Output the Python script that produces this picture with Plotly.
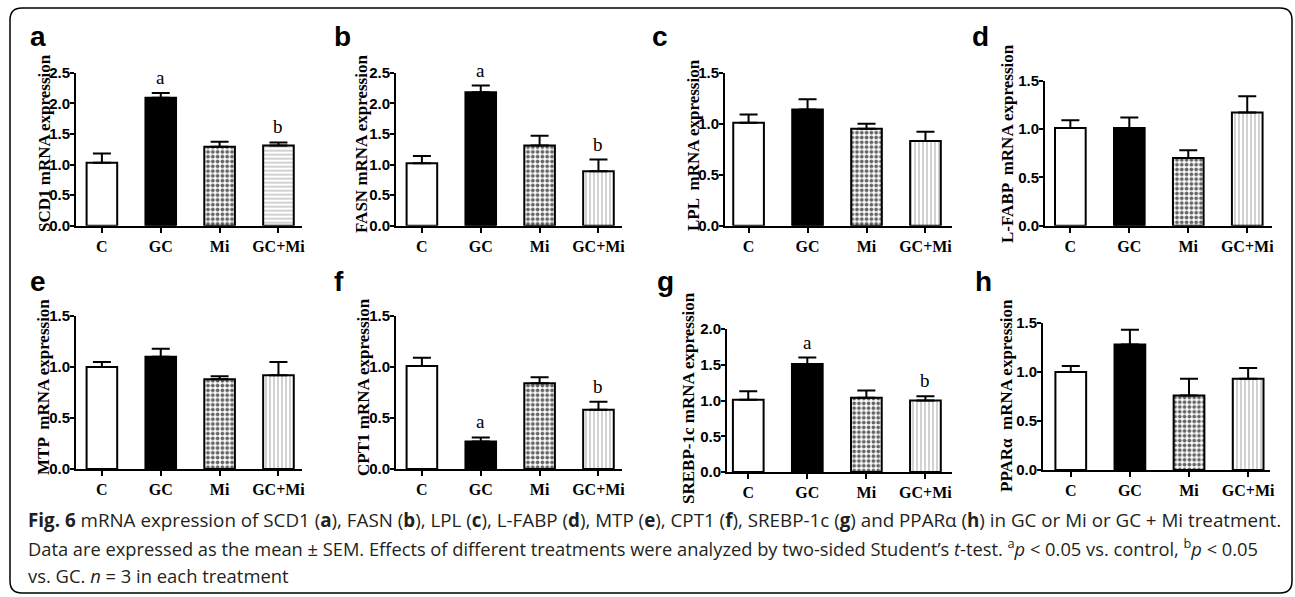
import plotly.graph_objects as go

W, H = 1295, 597

groups = ["C", "GC", "Mi", "GC+Mi"]

# ---- data (mean, SEM) ----
scd1_mean = [1.03, 2.09, 1.29, 1.31]
scd1_sem = [0.15, 0.08, 0.08, 0.05]
scd1_sig = ["", "a", "", "b"]

fasn_mean = [1.02, 2.18, 1.31, 0.89]
fasn_sem = [0.12, 0.11, 0.16, 0.19]
fasn_sig = ["", "a", "", "b"]

lpl_mean = [1.01, 1.14, 0.95, 0.83]
lpl_sem = [0.08, 0.10, 0.05, 0.09]
lpl_sig = ["", "", "", ""]

lfabp_mean = [1.01, 1.01, 0.70, 1.17]
lfabp_sem = [0.08, 0.11, 0.08, 0.17]
lfabp_sig = ["", "", "", ""]

mtp_mean = [1.00, 1.10, 0.88, 0.92]
mtp_sem = [0.05, 0.08, 0.03, 0.13]
mtp_sig = ["", "", "", ""]

cpt1_mean = [1.01, 0.27, 0.84, 0.58]
cpt1_sem = [0.08, 0.04, 0.06, 0.08]
cpt1_sig = ["", "a", "", "b"]

srebp_mean = [1.01, 1.51, 1.04, 1.00]
srebp_sem = [0.12, 0.09, 0.10, 0.06]
srebp_sig = ["", "a", "", "b"]

ppara_mean = [1.00, 1.28, 0.76, 0.93]
ppara_sem = [0.06, 0.15, 0.17, 0.11]
ppara_sig = ["", "", "", ""]

panel_letters = ["a", "b", "c", "d", "e", "f", "g", "h"]
y_titles = ["SCD1 mRNA expression", "FASN mRNA expression", "LPL  mRNA expression",
            "L-FABP  mRNA expression", "MTP  mRNA expression", "CPT1 mRNA expression",
            "SREBP-1c mRNA expression", "PPARα  mRNA expression"]
y_max = [2.5, 2.5, 1.5, 1.5, 1.5, 1.5, 2.0, 1.5]

means = [scd1_mean, fasn_mean, lpl_mean, lfabp_mean, mtp_mean, cpt1_mean, srebp_mean, ppara_mean]
sems = [scd1_sem, fasn_sem, lpl_sem, lfabp_sem, mtp_sem, cpt1_sem, srebp_sem, ppara_sem]
sigs = [scd1_sig, fasn_sig, lpl_sig, lfabp_sig, mtp_sig, cpt1_sig, srebp_sig, ppara_sig]

# ---- layout in pixels ----
boxes = [
    (76, 302, 72.7, 225.7), (396, 622, 72.7, 225.7), (725, 952, 72.7, 225.7), (1045, 1272, 80.7, 225.7),
    (76, 302, 316, 469), (396, 622, 316, 469), (727, 952, 329, 472), (1043, 1270, 323, 470),
]
x_ranges = [(-0.44, 3.40), (-0.44, 3.40), (-0.40, 3.45), (-0.43, 3.42),
            (-0.44, 3.40), (-0.44, 3.40), (-0.36, 3.45), (-0.47, 3.37)]
letter_pos = [(28, 37), (332, 37), (650, 37), (970, 37), (28, 281), (332, 281), (655, 281), (973, 281)]
title_pos = [(44, 143), (362, 144), (693, 145), (1008, 144), (43, 387), (363, 387), (688, 398), (1006, 396)]

# bar styles per group
bar_color = ["white", "black", "white", "white"]
bar_shape = ["", "", ".", "|"]
bar_fg = ["black", "black", "#656565", "#b4b4b4"]
bar_size = [4, 4, 4.8, 4]
bar_solid = [0.3, 0.3, 0.5, 0.3]


def px(x):
    return x / W


def py(y):
    return 1 - y / H


fig = go.Figure()
annotations = []
SERIF = "Liberation Serif"
SANS = "Liberation Sans"

for i in range(8):
    n = "" if i == 0 else str(i + 1)
    xa, ya = "x" + n, "y" + n
    for k in range(4):
        shape = bar_shape[k]
        if k == 3 and i == 0:
            shape = "-"
        marker = dict(color=bar_color[k], line=dict(color="black", width=2))
        if shape:
            marker["pattern"] = dict(shape=shape, fgcolor=bar_fg[k], bgcolor="white",
                                     size=bar_size[k], solidity=bar_solid[k], fillmode="replace")
        fig.add_trace(go.Bar(
            x=[groups[k]], y=[means[i][k]], xaxis=xa, yaxis=ya, width=0.52,
            marker=marker,
            error_y=dict(type="data", symmetric=False, array=[sems[i][k]], arrayminus=[0],
                         color="black", thickness=2, width=9),
            showlegend=False, hoverinfo="skip",
        ))
    x0, x1, yt, yb = boxes[i]
    fig.update_layout(**{
        "xaxis" + n: dict(
            domain=[px(x0), px(x1)], anchor=ya, type="category", range=list(x_ranges[i]),
            categoryorder="array", categoryarray=groups,
            showline=True, linecolor="black", linewidth=2, showgrid=False, zeroline=False,
            ticks="outside", ticklen=5, tickwidth=2, tickcolor="black", automargin=False,
            tickfont=dict(family=SERIF, size=16, color="black", weight="bold"),
            fixedrange=True,
        ),
        "yaxis" + n: dict(
            domain=[py(yb), py(yt)], anchor=xa, range=[0, y_max[i]], tick0=0, dtick=0.5,
            tickformat=".1f", showline=True, linecolor="black", linewidth=2, automargin=False,
            showgrid=False, zeroline=False, ticks="outside", ticklen=4, tickwidth=2,
            tickcolor="black", ticklabelstandoff=-3,
            tickfont=dict(family=SANS, size=15, color="black", weight="bold"),
            fixedrange=True,
        ),
    })
    lx, ly = letter_pos[i]
    annotations.append(dict(xref="paper", yref="paper", x=px(lx), y=py(ly), xanchor="left",
                            yanchor="middle", text=panel_letters[i], showarrow=False,
                            font=dict(family=SANS, size=28, color="black", weight="bold")))
    tx, ty = title_pos[i]
    annotations.append(dict(xref="paper", yref="paper", x=px(tx), y=py(ty), xanchor="center",
                            yanchor="middle", text=y_titles[i], textangle=-90, showarrow=False,
                            font=dict(family=SERIF, size=17, color="black", weight="bold")))
    for g, m, s, lab in zip(groups, means[i], sems[i], sigs[i]):
        if lab:
            annotations.append(dict(xref=xa, yref=ya, x=g, y=m + s, xanchor="center",
                                    yanchor="bottom", yshift=3, text=lab, showarrow=False,
                                    font=dict(family=SERIF, size=19, color="black")))

caption_lines = [
    "<b>Fig. 6</b> mRNA expression of SCD1 (<b>a</b>), FASN (<b>b</b>), LPL (<b>c</b>), L-FABP (<b>d</b>), "
    "MTP (<b>e</b>), CPT1 (<b>f</b>), SREBP-1c (<b>g</b>) and PPARα (<b>h</b>) in GC or Mi or GC + Mi treatment.",
    "Data are expressed as the mean ± SEM. Effects of different treatments were analyzed by two-sided "
    "Student’s <i>t</i>-test. <sup>a</sup><i>p</i> &lt; 0.05 vs. control, <sup>b</sup><i>p</i> &lt; 0.05",
    "vs. GC. <i>n</i> = 3 in each treatment",
]
caption_y = [520, 547.5, 575]
caption_size = [18.8, 18.3, 18.4]
for t, cy, cs in zip(caption_lines, caption_y, caption_size):
    annotations.append(dict(xref="paper", yref="paper", x=px(26), y=py(cy), xanchor="left",
                            yanchor="middle", text=t, showarrow=False,
                            font=dict(family="Open Sans", size=cs, color="#231f20")))

bx0, bx1, by0, by1, r = 10, 1292, 8, 593, 12
path = (f"M {px(bx0 + r)} {py(by0)} L {px(bx1 - r)} {py(by0)} Q {px(bx1)} {py(by0)} {px(bx1)} {py(by0 + r)} "
        f"L {px(bx1)} {py(by1 - r)} Q {px(bx1)} {py(by1)} {px(bx1 - r)} {py(by1)} "
        f"L {px(bx0 + r)} {py(by1)} Q {px(bx0)} {py(by1)} {px(bx0)} {py(by1 - r)} "
        f"L {px(bx0)} {py(by0 + r)} Q {px(bx0)} {py(by0)} {px(bx0 + r)} {py(by0)} Z")

fig.update_layout(
    width=W, height=H, margin=dict(l=0, r=0, t=0, b=0, pad=0, autoexpand=False),
    paper_bgcolor="white", plot_bgcolor="white",
    annotations=annotations,
    shapes=[dict(type="path", xref="paper", yref="paper", path=path,
                 line=dict(color="black", width=1.5))],
    barmode="overlay",
)

fig.write_html("out.html", config={"displayModeBar": False, "staticPlot": True},
               post_script="document.body.style.margin='0px';document.body.style.overflow='hidden';")
